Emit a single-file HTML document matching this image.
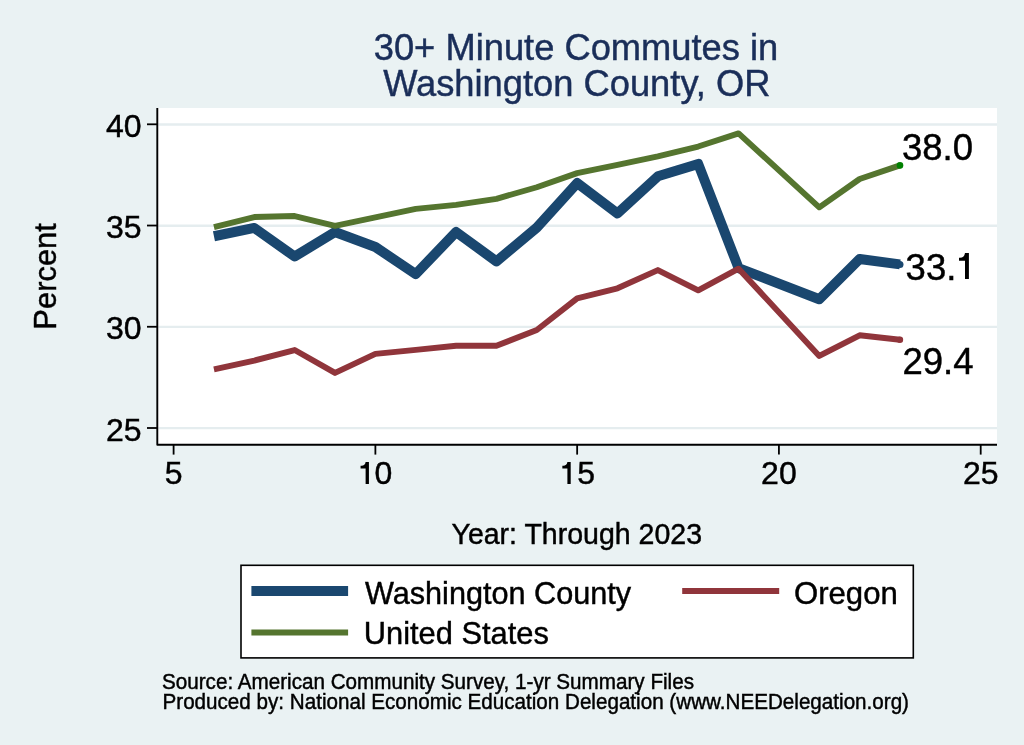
<!DOCTYPE html>
<html><head><meta charset="utf-8"><title>30+ Minute Commutes in Washington County, OR</title>
<style>html,body{margin:0;padding:0;background:#eaf2f3;} svg{display:block;will-change:transform;} text{font-family:"Liberation Sans", sans-serif;}</style></head>
<body><svg width="1024" height="745" viewBox="0 0 1024 745">
<rect x="0" y="0" width="1024" height="745" fill="#eaf2f3"/>
<rect x="157.3" y="108.0" width="839.7" height="336.7" fill="#ffffff"/>
<line x1="158.3" y1="124.45" x2="997.0" y2="124.45" stroke="#e5edef" stroke-width="2.4"/>
<line x1="158.3" y1="225.69" x2="997.0" y2="225.69" stroke="#e5edef" stroke-width="2.4"/>
<line x1="158.3" y1="326.92" x2="997.0" y2="326.92" stroke="#e5edef" stroke-width="2.4"/>
<line x1="158.3" y1="428.15" x2="997.0" y2="428.15" stroke="#e5edef" stroke-width="2.4"/>
<polyline points="213.95,236.27 254.31,227.96 294.66,256.51 335.02,232.01 375.38,247.00 415.73,274.13 456.08,232.01 496.44,261.37 536.79,227.56 577.15,183.02 617.50,213.39 657.86,176.33 698.22,163.98 738.57,268.05 819.28,299.23 859.63,258.94 899.99,264.41" fill="none" stroke="#1a476f" stroke-width="10.0" stroke-linejoin="round"/>
<polyline points="213.95,369.29 254.31,360.58 294.66,350.05 335.02,372.93 375.38,353.90 415.73,349.85 456.08,345.80 496.44,345.80 536.79,330.01 577.15,298.42 617.50,288.30 657.86,270.08 698.22,290.33 738.57,268.66 819.28,355.93 859.63,335.27 899.99,339.73" fill="none" stroke="#90353b" stroke-width="5.9" stroke-linejoin="round"/>
<polyline points="213.95,227.15 254.31,217.03 294.66,216.02 335.02,225.94 375.38,217.44 415.73,208.93 456.08,204.88 496.44,198.81 536.79,187.27 577.15,173.10 617.50,164.79 657.86,156.29 698.22,146.57 738.57,133.41 819.28,207.31 859.63,178.97 899.99,165.40" fill="none" stroke="#55752f" stroke-width="5.9" stroke-linejoin="round"/>
<circle cx="899.99" cy="264.41" r="3.5" fill="#1a476f"/>
<circle cx="899.99" cy="339.73" r="3.2" fill="#90353b"/>
<circle cx="899.99" cy="165.40" r="3.3" fill="#008000"/>
<path d="M157.3,108.0 L157.3,444.7 L997.0,444.7" fill="none" stroke="#000" stroke-width="1.9" stroke-linejoin="round"/>
<line x1="147" y1="124.30" x2="157.3" y2="124.30" stroke="#000" stroke-width="1.8"/>
<text x="141.5" y="136.90" text-anchor="end" font-size="32" fill="#000" stroke="#000" stroke-width="0.45">40</text>
<line x1="147" y1="225.53" x2="157.3" y2="225.53" stroke="#000" stroke-width="1.8"/>
<text x="141.5" y="238.13" text-anchor="end" font-size="32" fill="#000" stroke="#000" stroke-width="0.45">35</text>
<line x1="147" y1="326.77" x2="157.3" y2="326.77" stroke="#000" stroke-width="1.8"/>
<text x="141.5" y="339.37" text-anchor="end" font-size="32" fill="#000" stroke="#000" stroke-width="0.45">30</text>
<line x1="147" y1="428.00" x2="157.3" y2="428.00" stroke="#000" stroke-width="1.8"/>
<text x="141.5" y="440.61" text-anchor="end" font-size="32" fill="#000" stroke="#000" stroke-width="0.45">25</text>
<line x1="173.60" y1="444.7" x2="173.60" y2="454.6" stroke="#000" stroke-width="1.8"/>
<text x="173.60" y="484.3" text-anchor="middle" font-size="32" fill="#000" stroke="#000" stroke-width="0.45">5</text>
<line x1="375.38" y1="444.7" x2="375.38" y2="454.6" stroke="#000" stroke-width="1.8"/>
<path d="M365.62,484.00 L368.93,484.00 L368.93,462.10 L365.62,462.10 C365.23,464.70 363.82,465.70 361.57,465.70 L360.57,465.70 L360.57,468.50 L365.62,468.50 Z" fill="#000"/>
<text x="374.57" y="484.3" font-size="32" fill="#000" stroke="#000" stroke-width="0.45">0</text>
<line x1="577.15" y1="444.7" x2="577.15" y2="454.6" stroke="#000" stroke-width="1.8"/>
<path d="M567.40,484.00 L570.70,484.00 L570.70,462.10 L567.40,462.10 C567.00,464.70 565.60,465.70 563.35,465.70 L562.35,465.70 L562.35,468.50 L567.40,468.50 Z" fill="#000"/>
<text x="577.15" y="484.3" font-size="32" fill="#000" stroke="#000" stroke-width="0.45">5</text>
<line x1="778.92" y1="444.7" x2="778.92" y2="454.6" stroke="#000" stroke-width="1.8"/>
<text x="778.92" y="484.3" text-anchor="middle" font-size="32" fill="#000" stroke="#000" stroke-width="0.45">20</text>
<line x1="980.70" y1="444.7" x2="980.70" y2="454.6" stroke="#000" stroke-width="1.8"/>
<text x="980.70" y="484.3" text-anchor="middle" font-size="32" fill="#000" stroke="#000" stroke-width="0.45">25</text>
<text x="576" y="59.8" text-anchor="middle" font-size="36.3" fill="#1a2e59" stroke="#1a2e59" stroke-width="0.45">30+ Minute Commutes in</text>
<text x="576.8" y="95.5" text-anchor="middle" font-size="36.3" fill="#1a2e59" stroke="#1a2e59" stroke-width="0.45">Washington County, OR</text>
<text transform="translate(56.1,276.4) rotate(-90)" x="0" y="0" text-anchor="middle" font-size="30.9" fill="#000" stroke="#000" stroke-width="0.45">Percent</text>
<text x="576.75" y="544.1" text-anchor="middle" font-size="29.3" textLength="250.5" lengthAdjust="spacingAndGlyphs" fill="#000" stroke="#000" stroke-width="0.45">Year: Through 2023</text>
<text x="902" y="160.1" font-size="36.5" fill="#000" stroke="#000" stroke-width="0.45">38.0</text>
<text x="905.6" y="279.7" font-size="36.5" fill="#000" stroke="#000" stroke-width="0.45">33.</text>
<path d="M965.00,279.00 L968.90,279.00 L968.90,253.10 L965.00,253.10 C964.60,255.70 963.20,257.70 960.00,257.70 L959.00,257.70 L959.00,260.80 L965.00,260.80 Z" fill="#000"/>
<text x="902.5" y="374.1" font-size="36.5" fill="#000" stroke="#000" stroke-width="0.45">29.4</text>
<rect x="241" y="565.3" width="672.3" height="92.6" fill="#fff" stroke="#000" stroke-width="1.6"/>
<line x1="251.4" y1="591" x2="348.1" y2="591" stroke="#1a476f" stroke-width="10"/>
<line x1="682.2" y1="591" x2="779.2" y2="591" stroke="#90353b" stroke-width="6"/>
<line x1="251.4" y1="632.4" x2="348.1" y2="632.4" stroke="#55752f" stroke-width="6"/>
<text x="364.9" y="604" font-size="31.6" textLength="266.3" lengthAdjust="spacingAndGlyphs" fill="#000" stroke="#000" stroke-width="0.45">Washington County</text>
<text x="794.0" y="604.1" font-size="31.8" textLength="103.8" lengthAdjust="spacingAndGlyphs" fill="#000" stroke="#000" stroke-width="0.45">Oregon</text>
<text x="363.8" y="644.3" font-size="31.6" textLength="185" lengthAdjust="spacingAndGlyphs" fill="#000" stroke="#000" stroke-width="0.45">United States</text>
<text x="162" y="689.0" font-size="21.7" textLength="532" lengthAdjust="spacingAndGlyphs" fill="#000" stroke="#000" stroke-width="0.45">Source: American Community Survey, 1-yr Summary Files</text>
<text x="162.5" y="708.6" font-size="21.7" textLength="746.5" lengthAdjust="spacingAndGlyphs" fill="#000" stroke="#000" stroke-width="0.45">Produced by: National Economic Education Delegation (www.NEEDelegation.org)</text>
</svg></body></html>
